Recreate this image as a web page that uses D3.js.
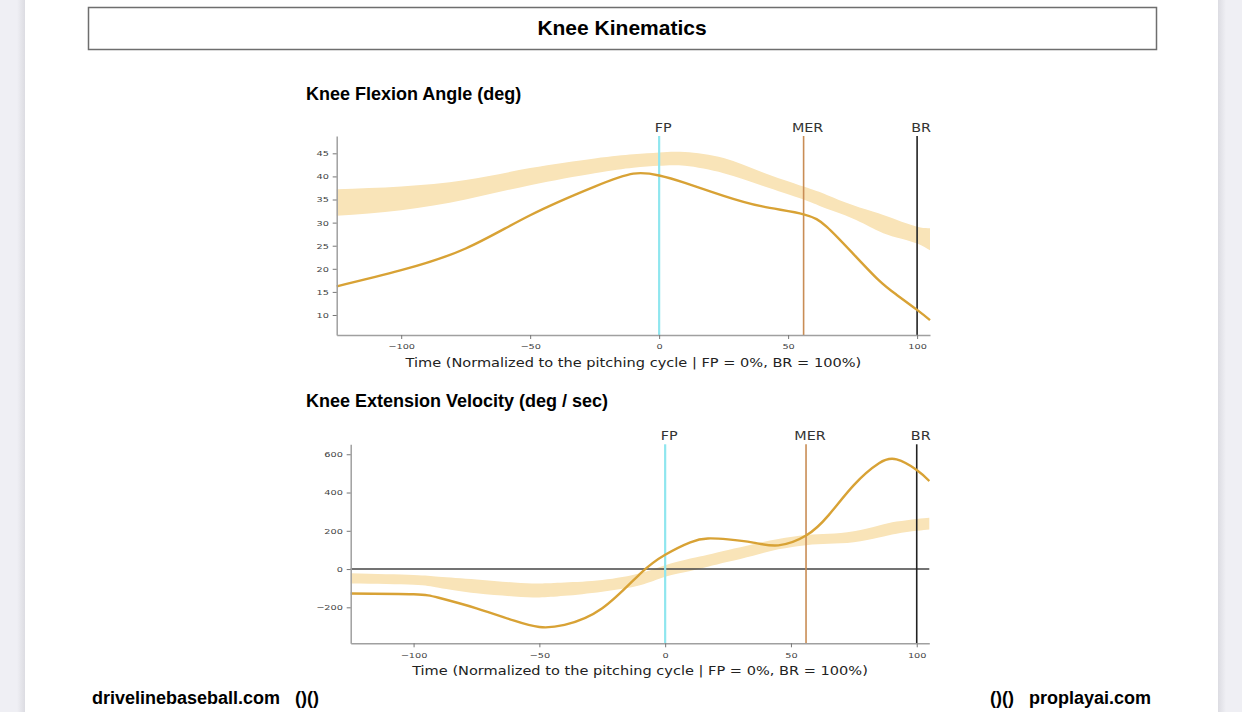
<!DOCTYPE html>
<html>
<head>
<meta charset="utf-8">
<script src="https://cdn.jsdelivr.net/npm/d3@7"></script>
<style>
  body { margin: 0; background: #efeff4; }
  svg { display: block; }
  .tick text { font-family: "DejaVu Sans", sans-serif; font-size: 7.5px; fill: #444; }
  .tick line { stroke: #777; }
  .domain { stroke: #a0a0a0; stroke-width: 1.5px; }
  .axis-label { font-family: "DejaVu Sans", sans-serif; font-size: 13px; fill: #222; }
  .event-label { font-family: "DejaVu Sans", sans-serif; font-size: 11.5px; fill: #333; }
  .heading { font-family: "Liberation Sans", Arial, sans-serif; font-weight: bold; fill: #000; }
</style>
</head>
<body>
<svg id="page" width="1242" height="712"></svg>
<script>
// event markers (percent of pitching cycle)
var eventNames = ["FP", "MER", "BR"];
var eventTimes = [0, 56, 100];

// knee flexion angle (deg)
var flexionTime = [-125, -100, -75, -50, -25, -10, 0, 10, 25, 40, 56, 65, 75, 85, 92, 100, 105];
var flexionMean = [16.2, 19.7, 24.4, 31.6, 37.8, 40.6, 40.2, 38.6, 35.8, 33.5, 31.8, 29.1, 23.4, 17.6, 14.4, 11.1, 8.9];
var flexionUpper = [37.2, 37.8, 39.2, 41.8, 43.9, 44.8, 45.2, 45.3, 44.0, 40.9, 37.8, 36.0, 33.8, 32.0, 30.6, 29.1, 28.8];
var flexionLower = [31.5, 32.7, 35.0, 38.1, 40.7, 41.9, 42.3, 42.3, 40.7, 38.0, 35.0, 33.0, 30.9, 28.2, 26.8, 25.5, 24.0];
var flexionTicksY = [10, 15, 20, 25, 30, 35, 40, 45];

// knee extension velocity (deg / sec)
var velocityTime = [-125, -100, -90, -75, -60, -50, -40, -25, -10, 0, 10, 17, 25, 35, 45, 56, 65, 75, 85, 92, 100, 105];
var velocityMean = [-128, -132, -150, -205, -270, -303, -292, -205, -25, 75, 140, 160, 155, 138, 124, 175, 282, 439, 553, 573, 518, 460];
var velocityUpper = [-22, -31, -40, -54, -70, -75, -70, -57, -22, 20, 55, 75, 100, 130, 157, 178, 185, 198, 228, 248, 262, 268];
var velocityLower = [-75, -82, -98, -127, -143, -148, -140, -118, -84, -40, -10, 12, 38, 70, 103, 125, 132, 140, 165, 185, 200, 207];
var velocityTicksY = [-200, 0, 200, 400, 600];

var timeTicks = [-100, -50, 0, 50, 100];

var svg = d3.select("#page");

// page sheet with soft side shadows
var defs = svg.append("defs");
var gl = defs.append("linearGradient").attr("id", "shadeL");
gl.append("stop").attr("offset", "0%").attr("stop-color", "#efeff4");
gl.append("stop").attr("offset", "100%").attr("stop-color", "#dcdce2");
var gr = defs.append("linearGradient").attr("id", "shadeR");
gr.append("stop").attr("offset", "0%").attr("stop-color", "#dcdce2");
gr.append("stop").attr("offset", "100%").attr("stop-color", "#efeff4");
svg.append("rect").attr("x", 17).attr("y", 0).attr("width", 8).attr("height", 712).attr("fill", "url(#shadeL)");
svg.append("rect").attr("x", 1218).attr("y", 0).attr("width", 8).attr("height", 712).attr("fill", "url(#shadeR)");
svg.append("rect").attr("x", 25).attr("y", 0).attr("width", 1193).attr("height", 712).attr("fill", "#fff");

// title box
svg.append("rect")
  .attr("x", 88.5).attr("y", 7.5).attr("width", 1068).attr("height", 42)
  .attr("fill", "none").attr("stroke", "#6e6e6e").attr("stroke-width", 1.5);
svg.append("text").attr("class", "heading")
  .attr("x", 622).attr("y", 35).attr("text-anchor", "middle")
  .style("font-size", "21px").text("Knee Kinematics");

// footer
svg.append("text").attr("class", "heading")
  .attr("x", 92).attr("y", 704).style("font-size", "18px")
  .attr("xml:space", "preserve").text("drivelinebaseball.com   ()()");
svg.append("text").attr("class", "heading")
  .attr("x", 1151).attr("y", 704).attr("text-anchor", "end").style("font-size", "18px")
  .attr("xml:space", "preserve").text("()()   proplayai.com");

function drawPanel(opts) {
  var x = d3.scaleLinear().domain([-125, 105]).range([opts.left, opts.right]);
  var y = d3.scaleLinear().domain(opts.yDomain).range([opts.bottom, opts.top]);

  svg.append("text").attr("class", "heading")
    .attr("x", 306).attr("y", opts.titleY).style("font-size", "18px")
    .text(opts.title);

  var rows = opts.time.map(function(t, i) {
    return {t: t, mean: opts.mean[i], lo: opts.lower[i], hi: opts.upper[i]};
  });

  var band = d3.area()
    .x(function(d) { return x(d.t); })
    .y0(function(d) { return y(d.lo); })
    .y1(function(d) { return y(d.hi); })
    .curve(d3.curveNatural);

  var line = d3.line()
    .x(function(d) { return x(d.t); })
    .y(function(d) { return y(d.mean); })
    .curve(d3.curveNatural);

  svg.append("path").datum(rows)
    .attr("d", band)
    .attr("fill", "#f9e4b8");

  if (opts.zeroLine) {
    svg.append("line")
      .attr("x1", x(-125)).attr("x2", x(105))
      .attr("y1", y(0)).attr("y2", y(0))
      .attr("stroke", "#444").attr("stroke-width", 1.5);
  }

  var eventColors = ["#8fe6ef", "#c98d55", "#222"];
  var eventWidths = [2.2, 1.6, 1.6];
  eventTimes.forEach(function(t, i) {
    svg.append("line")
      .attr("x1", x(t)).attr("x2", x(t))
      .attr("y1", opts.top).attr("y2", opts.bottom)
      .attr("stroke", eventColors[i]).attr("stroke-width", eventWidths[i]);
    svg.append("text").attr("class", "event-label")
      .attr("transform", "translate(" + (x(t) + 4) + "," + (opts.top - 4) + ") scale(1.25,1)")
      .attr("text-anchor", "middle")
      .text(eventNames[i]);
  });

  svg.append("path").datum(rows)
    .attr("d", line)
    .attr("fill", "none")
    .attr("stroke", "#d8a235")
    .attr("stroke-width", 2.4);

  var xAxis = svg.append("g")
    .attr("transform", "translate(0," + opts.bottom + ")")
    .call(d3.axisBottom(x).tickValues(timeTicks).tickSize(4).tickPadding(5).tickSizeOuter(0)
      .tickFormat(d3.format("d")));
  xAxis.selectAll(".tick text").attr("transform", "scale(1.3,1)");

  var yAxis = svg.append("g")
    .attr("transform", "translate(" + opts.left + ",0)")
    .call(d3.axisLeft(y).tickValues(opts.yTicks).tickSize(4).tickSizeOuter(0));
  yAxis.selectAll(".tick text").attr("transform", "scale(1.3,1)").attr("x", -6);

  svg.append("text").attr("class", "axis-label")
    .attr("transform", "translate(" + ((opts.left + opts.right) / 2) + "," + (opts.bottom + 32) + ") scale(1.12,1)")
    .attr("text-anchor", "middle")
    .text("Time (Normalized to the pitching cycle | FP = 0%, BR = 100%)");
}

drawPanel({
  title: "Knee Flexion Angle (deg)", titleY: 100,
  left: 336.7, right: 930, top: 136, bottom: 335,
  yDomain: [5.67, 48.75], yTicks: flexionTicksY,
  time: flexionTime, mean: flexionMean, upper: flexionUpper, lower: flexionLower,
  zeroLine: false
});

drawPanel({
  title: "Knee Extension Velocity (deg / sec)", titleY: 407,
  left: 350.7, right: 929.3, top: 444.3, bottom: 643.3,
  yDomain: [-388, 652], yTicks: velocityTicksY,
  time: velocityTime, mean: velocityMean, upper: velocityUpper, lower: velocityLower,
  zeroLine: true
});
</script>
</body>
</html>
